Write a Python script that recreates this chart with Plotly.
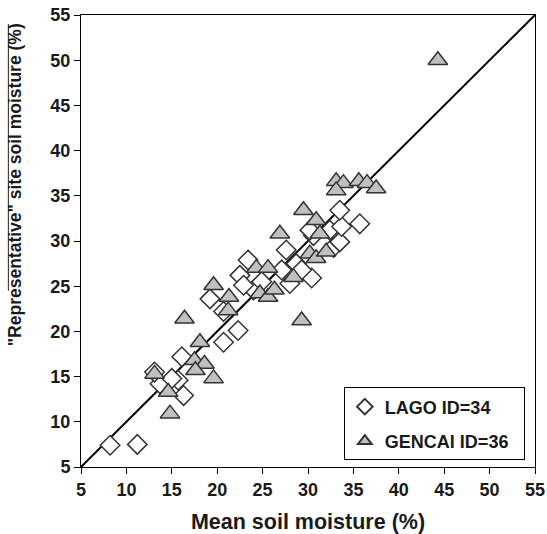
import plotly.graph_objects as go

# LAGO ID=34 (diamonds)
lago_x = [8.2, 11.2, 16.3, 15.7, 13.7, 13.1, 16.1, 15.0, 20.7, 22.3, 19.2, 20.7,
          22.5, 23.4, 24.0, 24.9, 27.6, 28.0, 30.4, 28.7, 27.1, 30.6, 30.2, 32.4,
          32.8, 33.5, 33.7, 35.7, 33.5, 22.9, 29.3]
lago_y = [7.4, 7.5, 12.9, 14.6, 14.2, 15.5, 17.2, 14.8, 18.8, 20.1, 23.6, 22.2,
          26.2, 27.9, 24.6, 25.5, 29.0, 25.3, 25.9, 27.5, 26.8, 30.6, 31.2, 31.2,
          29.3, 29.9, 31.6, 31.9, 33.4, 25.1, 26.8]

# GENCAI ID=36 (triangles)
gencai_x = [44.3, 33.1, 33.9, 35.6, 36.5, 37.5, 33.1, 29.5, 30.9, 26.9, 31.3, 30.2,
            30.9, 32.0, 28.4, 24.3, 25.6, 24.7, 25.6, 26.3, 19.6, 21.3, 21.2, 16.4,
            29.3, 18.1, 17.5, 18.6, 17.6, 19.6, 13.1, 14.6, 14.8]
gencai_y = [50.0, 36.6, 36.4, 36.6, 36.4, 35.8, 35.6, 33.4, 32.3, 30.8, 30.8, 28.6,
            28.1, 28.8, 26.0, 27.0, 27.0, 24.2, 23.8, 24.6, 25.1, 23.8, 22.3, 21.4,
            21.2, 18.8, 16.8, 16.4, 15.7, 14.8, 15.3, 13.3, 10.9]

axis_range = [5, 55]
tick_vals = list(range(5, 60, 5))

x_title = "Mean soil moisture (%)"
y_title = "\"Representative\" site soil moisture (%)"
legend_names = ["LAGO ID=34", "GENCAI ID=36"]

FONT = "Liberation Sans, Arial, sans-serif"
TXT = "#1a1a1a"

fig = go.Figure()

fig.add_trace(go.Scatter(
    x=axis_range, y=axis_range, mode="lines",
    line=dict(color="black", width=2), showlegend=False, hoverinfo="skip"))

fig.add_trace(go.Scatter(
    x=lago_x, y=lago_y, mode="markers", name=legend_names[0] + "\u00a0\u00a0",
    legendgroup="a",
    marker=dict(symbol="diamond", size=15, color="white",
                line=dict(color="#333333", width=1.5))))

fig.add_trace(go.Scatter(
    x=gencai_x, y=gencai_y, mode="markers", name=legend_names[1] + "\u00a0\u00a0",
    legendgroup="b",
    marker=dict(symbol="triangle-up", size=17, color="#c0c0c0",
                line=dict(color="#333333", width=1.5))))

axis_common = dict(
    range=axis_range, tickvals=tick_vals, ticks="outside", ticklen=6,
    tickcolor="black", tickwidth=1, showline=True, linecolor="black",
    linewidth=1, mirror=True, showgrid=False, zeroline=False, automargin=False,
    tickfont=dict(family=FONT, size=18, color=TXT, weight="bold"),
)

fig.update_layout(
    width=547, height=534,
    margin=dict(l=81, r=12, t=15, b=67),
    paper_bgcolor="white", plot_bgcolor="white",
    xaxis=dict(**axis_common,
               title=dict(text=x_title, standoff=15,
                          font=dict(family=FONT, size=21.5, color=TXT, weight="bold"))),
    yaxis=dict(**axis_common),
    legend=dict(x=0.579, y=0.176, xanchor="left", yanchor="top",
                bordercolor="black", borderwidth=1, bgcolor="white",
                traceorder="grouped", tracegroupgap=8, itemsizing="constant",
                font=dict(family=FONT, size=18, color=TXT, weight="bold")),
    showlegend=True,
    annotations=[dict(
        text=y_title, textangle=-90, xref="paper", yref="paper",
        x=-0.146, y=0.625, xanchor="center", yanchor="middle", showarrow=False,
        font=dict(family=FONT, size=17.5, color=TXT, weight="bold"))],
    shapes=[dict(type="line", xref="paper", yref="paper",
                 x0=-0.16, x1=-0.16, y0=0.98, y1=0.39,
                 line=dict(color="#222222", width=1))],
)

fig.write_html("out.html")
